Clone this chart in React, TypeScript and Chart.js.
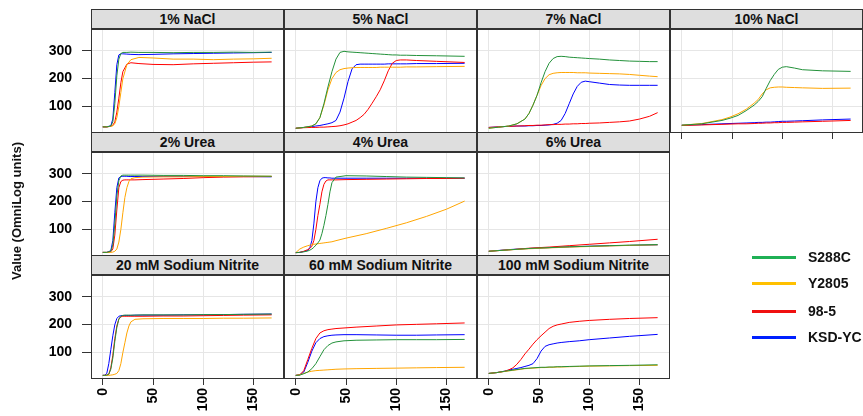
import React, { useEffect, useRef } from 'react';
import { Chart, registerables } from 'chart.js';

Chart.register(...registerables);

// ---------------- data ----------------
const SERIES = ['S288C', 'Y2805', '98-5', 'KSD-YC'];
const PANEL_TITLES = [
  '1% NaCl', '5% NaCl', '7% NaCl', '10% NaCl',
  '2% Urea', '4% Urea', '6% Urea',
  '20 mM Sodium Nitrite', '60 mM Sodium Nitrite', '100 mM Sodium Nitrite',
];
const X_TICKS = [0, 50, 100, 150];
const Y_TICKS = [100, 200, 300];
const X_MIN = -11.7;
const X_MAX = 180.3;
const Y_MIN = 5;
const Y_MAX = 378;
const Y_TITLE = 'Value (OmniLog units)';

// 1% NaCl
const T_NACL1 = [0, 4, 8, 10, 12, 14, 16, 18, 20, 24, 28, 36, 50, 70, 90, 110, 130, 150, 168];
const NACL1_S288C = [27, 27, 30, 45, 110, 210, 270, 290, 294, 294, 295, 294, 294, 293, 294, 294, 295, 294, 295];
const NACL1_Y2805 = [27, 27, 29, 31, 38, 60, 100, 150, 200, 250, 268, 276, 274, 270, 270, 268, 270, 271, 273];
const NACL1_985 = [27, 27, 29, 33, 45, 80, 130, 185, 225, 252, 257, 254, 251, 250, 253, 255, 257, 259, 260];
const NACL1_KSDYC = [27, 27, 31, 55, 150, 250, 285, 289, 289, 288, 287, 286, 287, 289, 290, 291, 292, 293, 294];

// 5% NaCl
const T_NACL5 = [0, 8, 16, 20, 24, 28, 32, 36, 40, 44, 48, 52, 56, 60, 64, 68, 72, 76, 80, 84, 88, 92, 96, 100, 104, 110, 120, 140, 168];
const NACL5_S288C = [22, 25, 30, 38, 60, 110, 170, 225, 270, 294, 298, 296, 295, 294, 293, 292, 291, 290, 289, 288, 287, 286, 285, 285, 284, 284, 283, 282, 280];
const NACL5_Y2805 = [22, 25, 30, 38, 60, 105, 160, 200, 222, 232, 236, 238, 239, 240, 240, 240, 240, 240, 240, 241, 241, 241, 241, 241, 241, 242, 242, 243, 244];
const NACL5_985 = [22, 24, 25, 25, 26, 26, 27, 28, 29, 31, 34, 38, 44, 50, 60, 72, 90, 112, 135, 160, 192, 228, 255, 265, 267, 267, 265, 262, 258];
const NACL5_KSDYC = [22, 25, 28, 30, 32, 35, 38, 42, 50, 80, 130, 190, 235, 250, 252, 252, 252, 252, 252, 252, 252, 253, 253, 253, 253, 253, 254, 254, 255];

// 7% NaCl
const T_NACL7 = [0, 10, 20, 28, 36, 40, 44, 48, 52, 56, 60, 64, 68, 72, 76, 80, 84, 88, 92, 96, 100, 110, 120, 130, 140, 150, 160, 168];
const NACL7_S288C = [22, 26, 30, 38, 55, 75, 105, 140, 185, 225, 255, 272, 279, 280, 279, 277, 276, 275, 274, 273, 272, 270, 267, 265, 263, 262, 261, 261];
const NACL7_Y2805 = [22, 26, 30, 38, 55, 75, 105, 140, 175, 200, 214, 219, 221, 222, 222, 222, 222, 221, 221, 221, 220, 219, 218, 217, 215, 212, 209, 207];
const NACL7_985 = [25, 27, 29, 30, 31, 32, 32, 33, 33, 34, 35, 35, 36, 36, 37, 37, 38, 38, 39, 39, 40, 41, 43, 45, 48, 55, 65, 78];
const NACL7_KSDYC = [25, 27, 29, 30, 30, 31, 31, 32, 32, 33, 34, 36, 40, 50, 75, 110, 145, 172, 187, 191, 189, 184, 179, 177, 176, 176, 176, 176];

// 10% NaCl
const T_NACL10 = [0, 20, 40, 48, 56, 64, 72, 76, 80, 84, 88, 92, 96, 100, 104, 112, 120, 140, 168];
const NACL10_S288C = [33, 38, 50, 58, 68, 85, 105, 118, 135, 165, 193, 215, 233, 241, 243, 238, 232, 228, 226];
const NACL10_Y2805 = [33, 39, 53, 62, 74, 90, 112, 125, 145, 160, 167, 169, 170, 170, 169, 168, 167, 165, 166];
const NACL10_985 = [32, 34, 36, 37, 38, 38, 39, 40, 40, 41, 41, 42, 42, 43, 43, 44, 45, 47, 50];
const NACL10_KSDYC = [33, 35, 38, 39, 40, 41, 42, 43, 43, 44, 44, 45, 46, 47, 47, 48, 49, 52, 55];

// 2% Urea
const T_UREA2 = [0, 4, 8, 10, 12, 14, 16, 18, 20, 22, 24, 26, 28, 32, 40, 60, 80, 100, 120, 140, 168];
const UREA2_S288C = [18, 18, 22, 45, 120, 220, 275, 292, 295, 295, 295, 295, 295, 295, 295, 294, 294, 293, 293, 292, 291];
const UREA2_Y2805 = [18, 18, 18, 19, 22, 30, 55, 100, 160, 215, 250, 272, 282, 286, 288, 289, 289, 290, 290, 291, 291];
const UREA2_985 = [18, 18, 20, 30, 80, 170, 250, 272, 277, 278, 278, 278, 278, 278, 279, 281, 283, 286, 288, 289, 290];
const UREA2_KSDYC = [18, 18, 24, 60, 160, 250, 285, 290, 291, 291, 291, 290, 290, 290, 290, 290, 290, 290, 290, 290, 289];

// 4% Urea
const T_UREA4 = [0, 4, 8, 12, 14, 16, 18, 20, 22, 24, 26, 28, 30, 32, 34, 36, 40, 50, 70, 90, 110, 130, 150, 168];
const UREA4_S288C = [17, 18, 20, 23, 26, 30, 36, 44, 52, 62, 85, 115, 150, 190, 235, 268, 288, 293, 292, 290, 288, 287, 286, 285];
const UREA4_Y2805 = [17, 30, 37, 42, 44, 45, 47, 48, 49, 50, 51, 52, 53, 54, 55, 56, 60, 69, 85, 104, 124, 147, 173, 202];
const UREA4_985 = [17, 18, 22, 28, 32, 40, 60, 100, 150, 190, 235, 262, 274, 278, 278, 278, 278, 279, 280, 281, 282, 283, 283, 284];
const UREA4_KSDYC = [17, 18, 21, 25, 35, 60, 120, 200, 250, 275, 284, 286, 286, 285, 285, 284, 284, 284, 284, 284, 284, 284, 284, 284];

// 6% Urea
const T_UREA6 = [0, 20, 40, 60, 80, 100, 120, 140, 168];
const UREA6_S288C = [22, 27, 32, 35, 38, 40, 42, 44, 46];
const UREA6_Y2805 = [22, 27, 31, 34, 37, 39, 41, 43, 45];
const UREA6_985 = [22, 27, 33, 37, 42, 47, 52, 57, 65];
const UREA6_KSDYC = [22, 28, 32, 35, 38, 40, 42, 43, 45];

// 20 mM Sodium Nitrite
const T_NITRITE20 = [0, 2, 4, 6, 8, 10, 12, 14, 16, 18, 20, 22, 24, 26, 28, 32, 40, 60, 80, 100, 120, 140, 168];
const N20_S288C = [18, 18, 19, 22, 40, 80, 140, 190, 220, 230, 233, 234, 234, 234, 234, 234, 235, 235, 235, 236, 236, 237, 238];
const N20_Y2805 = [18, 18, 18, 18, 19, 20, 22, 25, 35, 60, 100, 135, 170, 195, 210, 219, 221, 222, 222, 222, 223, 223, 224];
const N20_985 = [18, 18, 19, 22, 45, 90, 150, 195, 220, 228, 230, 230, 230, 230, 230, 230, 230, 231, 231, 232, 233, 234, 235];
const N20_KSDYC = [18, 19, 25, 60, 110, 160, 200, 222, 230, 232, 233, 233, 233, 233, 233, 234, 234, 234, 235, 235, 236, 237, 238];

// 60 mM Sodium Nitrite
const T_NITRITE60 = [0, 4, 8, 12, 16, 20, 24, 28, 32, 36, 40, 48, 60, 80, 100, 120, 140, 168];
const N60_S288C = [18, 19, 24, 30, 42, 60, 85, 110, 125, 134, 138, 142, 144, 145, 146, 146, 146, 147];
const N60_Y2805 = [18, 20, 25, 30, 33, 35, 36, 37, 38, 39, 40, 41, 42, 43, 44, 45, 46, 47];
const N60_985 = [18, 20, 35, 75, 115, 150, 170, 178, 182, 184, 186, 188, 191, 195, 199, 201, 203, 206];
const N60_KSDYC = [18, 20, 30, 65, 105, 135, 150, 157, 160, 162, 163, 164, 164, 163, 162, 162, 163, 164];

// 100 mM Sodium Nitrite
const T_NITRITE100 = [0, 8, 16, 20, 24, 28, 32, 36, 40, 44, 48, 52, 56, 60, 64, 68, 72, 80, 90, 100, 120, 140, 168];
const N100_S288C = [25, 28, 33, 35, 37, 39, 41, 43, 44, 45, 46, 47, 47, 48, 48, 49, 49, 50, 51, 52, 53, 54, 56];
const N100_Y2805 = [25, 28, 32, 34, 36, 38, 40, 42, 43, 44, 45, 46, 46, 47, 47, 48, 48, 49, 50, 51, 52, 53, 54];
const N100_985 = [25, 28, 33, 38, 45, 58, 75, 95, 112, 130, 146, 160, 173, 186, 194, 199, 202, 208, 212, 215, 219, 222, 225];
const N100_KSDYC = [25, 28, 33, 37, 40, 43, 46, 50, 54, 60, 78, 105, 122, 128, 131, 134, 136, 139, 142, 146, 152, 158, 165];

const PANELS = [
  { times: T_NACL1, values: [NACL1_S288C, NACL1_Y2805, NACL1_985, NACL1_KSDYC] },
  { times: T_NACL5, values: [NACL5_S288C, NACL5_Y2805, NACL5_985, NACL5_KSDYC] },
  { times: T_NACL7, values: [NACL7_S288C, NACL7_Y2805, NACL7_985, NACL7_KSDYC] },
  { times: T_NACL10, values: [NACL10_S288C, NACL10_Y2805, NACL10_985, NACL10_KSDYC] },
  { times: T_UREA2, values: [UREA2_S288C, UREA2_Y2805, UREA2_985, UREA2_KSDYC] },
  { times: T_UREA4, values: [UREA4_S288C, UREA4_Y2805, UREA4_985, UREA4_KSDYC] },
  { times: T_UREA6, values: [UREA6_S288C, UREA6_Y2805, UREA6_985, UREA6_KSDYC] },
  { times: T_NITRITE20, values: [N20_S288C, N20_Y2805, N20_985, N20_KSDYC] },
  { times: T_NITRITE60, values: [N60_S288C, N60_Y2805, N60_985, N60_KSDYC] },
  { times: T_NITRITE100, values: [N100_S288C, N100_Y2805, N100_985, N100_KSDYC] },
];

// ---------------- layout & style ----------------
const PANEL_GRID: [number, number][] = [
  [0, 0], [0, 1], [0, 2], [0, 3],
  [1, 0], [1, 1], [1, 2],
  [2, 0], [2, 1], [2, 2],
];
const COL_LEFT = [91, 284, 477, 670];
const PANEL_W = 193;
const ROW_TOP = [9, 132, 255];
const STRIP_H = 20;
const PLOT_H = 104;
const YAXIS_W = 70;
const XAXIS_H = 37;
const FONT = "'Liberation Sans', Arial, Helvetica, sans-serif";
const LINE_COLORS = ['#23913A', '#FFA500', '#FF0000', '#0000FF'];
const LEGEND_COLORS = ['#1FB055', '#FFC000', '#F01010', '#0020FF'];
const GRID_COLOR = '#E6E6E6';
const TICK_COLOR = '#333333';
const BORDER_COLOR = '#333333';

const borderPlugin = {
  id: 'panelBorder',
  afterDraw(chart: any) {
    const { ctx, chartArea: a } = chart;
    ctx.save();
    ctx.strokeStyle = BORDER_COLOR;
    ctx.lineWidth = 1;
    ctx.strokeRect(a.left + 0.5, a.top + 0.5, a.right - a.left - 1, a.bottom - a.top - 1);
    ctx.restore();
  },
};

function zeroPadding(s: any) {
  s.paddingTop = 0;
  s.paddingBottom = 0;
  s.paddingLeft = 0;
  s.paddingRight = 0;
}

function Panel({ idx }: { idx: number }) {
  const ref = useRef<HTMLCanvasElement | null>(null);
  const [row, col] = PANEL_GRID[idx];
  const showY = col === 0;
  const showXLabels = row === 2;
  const showXTicks = showXLabels || (row === 0 && col === 3);
  const xH = showXLabels ? XAXIS_H : showXTicks ? 6 : 0;
  const left = COL_LEFT[col] - (showY ? YAXIS_W : 0);
  const top = ROW_TOP[row] + STRIP_H;
  const width = PANEL_W + (showY ? YAXIS_W : 0);
  const height = PLOT_H + xH;

  useEffect(() => {
    const p = PANELS[idx];
    const chart = new Chart(ref.current as HTMLCanvasElement, {
      type: 'line',
      data: {
        datasets: SERIES.map((name, i) => ({
          label: name,
          data: p.times.map((t, j) => ({ x: t, y: p.values[i][j] })),
          borderColor: LINE_COLORS[i],
          backgroundColor: LINE_COLORS[i],
          borderWidth: 1,
          pointRadius: 0,
          tension: 0,
          fill: false,
        })),
      },
      options: {
        animation: false,
        responsive: false,
        maintainAspectRatio: false,
        events: [],
        layout: { padding: 0 },
        plugins: {
          legend: { display: false },
          tooltip: { enabled: false },
          title: { display: false },
        },
        scales: {
          x: {
            type: 'linear',
            min: X_MIN,
            max: X_MAX,
            afterBuildTicks: (s: any) => {
              s.ticks = X_TICKS.map((v) => ({ value: v }));
            },
            afterFit: (s: any) => {
              s.height = xH;
              zeroPadding(s);
            },
            border: { display: false },
            grid: {
              color: GRID_COLOR,
              lineWidth: 1,
              drawTicks: showXTicks,
              tickLength: 6,
              tickColor: TICK_COLOR,
            },
            ticks: {
              display: showXLabels,
              minRotation: 90,
              maxRotation: 90,
              padding: 3,
              color: '#000',
              font: { family: FONT, size: 14, weight: 'bold' },
            },
          },
          y: {
            type: 'linear',
            min: Y_MIN,
            max: Y_MAX,
            afterBuildTicks: (s: any) => {
              s.ticks = Y_TICKS.map((v) => ({ value: v }));
            },
            afterFit: (s: any) => {
              s.width = showY ? YAXIS_W : 0;
              zeroPadding(s);
            },
            border: { display: false },
            grid: {
              color: GRID_COLOR,
              lineWidth: 1,
              drawTicks: showY,
              tickLength: 9,
              tickColor: TICK_COLOR,
            },
            ticks: {
              display: showY,
              padding: 10,
              color: '#000',
              font: { family: FONT, size: 14, weight: 'bold' },
            },
          },
        },
      } as any,
      plugins: [borderPlugin],
    });
    return () => chart.destroy();
  }, [idx]);

  return (
    <div style={{ position: 'absolute', left, top, width, height }}>
      <canvas ref={ref} width={width} height={height} style={{ display: 'block', width, height }} />
    </div>
  );
}

function Strip({ idx }: { idx: number }) {
  const [row, col] = PANEL_GRID[idx];
  return (
    <div
      style={{
        position: 'absolute',
        left: COL_LEFT[col],
        top: ROW_TOP[row],
        width: PANEL_W,
        height: STRIP_H,
        boxSizing: 'border-box',
        border: `1px solid ${BORDER_COLOR}`,
        background: '#DEDEDE',
        color: '#111',
        fontFamily: FONT,
        fontWeight: 'bold',
        fontSize: 14,
        lineHeight: `${STRIP_H - 2}px`,
        textAlign: 'center',
        whiteSpace: 'nowrap',
      }}
    >
      {PANEL_TITLES[idx]}
    </div>
  );
}

const LEGEND_Y = [257, 283, 311, 337];

export default function App() {
  return (
    <div style={{ position: 'absolute', left: 0, top: 0, width: 863, height: 416, background: '#fff', overflow: 'hidden' }}>
      {PANEL_GRID.map((_, i) => (
        <Panel key={`p${i}`} idx={i} />
      ))}
      {PANEL_GRID.map((_, i) => (
        <Strip key={`s${i}`} idx={i} />
      ))}
      <div
        style={{
          position: 'absolute',
          left: 17 - 120,
          top: 211 - 9,
          width: 240,
          height: 18,
          lineHeight: '18px',
          textAlign: 'center',
          transform: 'rotate(-90deg)',
          fontFamily: FONT,
          fontWeight: 'bold',
          fontSize: 13,
          color: '#111',
          whiteSpace: 'nowrap',
        }}
      >
        {Y_TITLE}
      </div>
      {SERIES.map((name, i) => (
        <div key={name}>
          <div
            style={{
              position: 'absolute',
              left: 752,
              top: LEGEND_Y[i] - 1.5,
              width: 44,
              height: 3,
              background: LEGEND_COLORS[i],
            }}
          />
          <div
            style={{
              position: 'absolute',
              left: 808,
              top: LEGEND_Y[i] - 9,
              height: 18,
              lineHeight: '18px',
              fontFamily: FONT,
              fontWeight: 'bold',
              fontSize: 14,
              color: '#111',
              whiteSpace: 'nowrap',
            }}
          >
            {name}
          </div>
        </div>
      ))}
    </div>
  );
}
